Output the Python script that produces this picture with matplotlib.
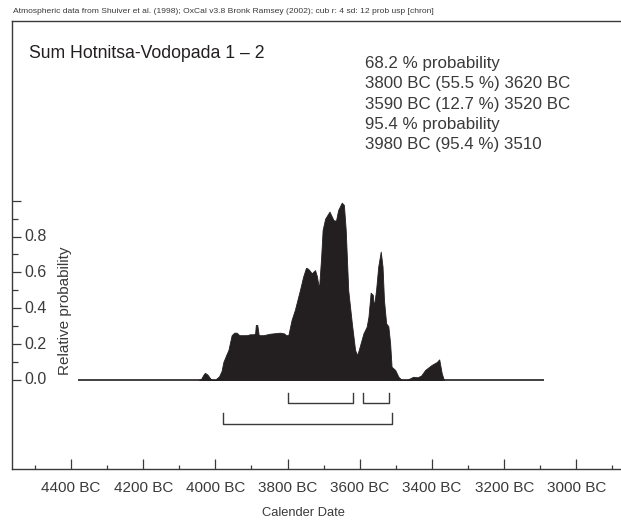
import matplotlib
matplotlib.use("Agg")
import matplotlib.pyplot as plt
from matplotlib.ticker import FixedLocator
import matplotlib.transforms as mtransforms

plt.rcParams['font.family'] = ['Liberation Sans', 'DejaVu Sans']

# Summed probability distribution (calendar years BC, relative probability)
years_bc = [4045, 4040, 4033, 4029, 4022, 4014, 4008, 4000, 3996, 3990, 3983,
            3978, 3970, 3964, 3955, 3948, 3941, 3934, 3913, 3904, 3893, 3890,
            3888, 3884, 3880, 3867, 3849, 3821, 3810, 3804, 3798, 3789, 3780,
            3766, 3757, 3749, 3743, 3733, 3724, 3719, 3713, 3707, 3703, 3696,
            3684, 3673, 3666, 3660, 3650, 3644, 3639, 3632, 3622, 3613, 3607,
            3599, 3590, 3581, 3576, 3570, 3564, 3561, 3555, 3549, 3542, 3537,
            3533, 3527, 3521, 3516, 3512, 3502, 3493, 3484, 3470, 3452, 3440,
            3430, 3419, 3401, 3387, 3380, 3373, 3367]
prob = [0.0, 0.005, 0.03, 0.04, 0.03, 0.008, 0.0, 0.0, 0.01, 0.02, 0.05,
        0.10, 0.14, 0.167, 0.25, 0.264, 0.264, 0.25, 0.25, 0.255, 0.255, 0.26,
        0.307, 0.307, 0.25, 0.25, 0.258, 0.264, 0.26, 0.25, 0.25, 0.335, 0.39,
        0.50, 0.576, 0.626, 0.62, 0.595, 0.613, 0.58, 0.51, 0.688, 0.837, 0.90,
        0.939, 0.892, 0.888, 0.948, 0.989, 0.976, 0.837, 0.50, 0.316, 0.167, 0.139,
        0.195, 0.26, 0.297, 0.353, 0.487, 0.475, 0.409, 0.50, 0.632, 0.716, 0.632,
        0.446, 0.316, 0.30, 0.205, 0.074, 0.056, 0.018, 0.0, 0.0, 0.018, 0.015,
        0.025, 0.056, 0.084, 0.10, 0.115, 0.037, 0.0]

# Extent of the plotted calendar range
range_start_bc = 4380
range_end_bc = 3090

# Highest probability density ranges
ranges_68 = [(3800, 3620), (3590, 3520)]
ranges_95 = [(3980, 3510)]

header = ("Atmospheric data from Shuiver et al. (1998); OxCal v3.8 Bronk Ramsey (2002); "
          "cub r: 4 sd: 12 prob usp [chron]")
title = "Sum Hotnitsa-Vodopada 1 \u2013 2"
summary_lines = ["68.2 % probability",
                 "3800 BC (55.5 %) 3620 BC",
                 "3590 BC (12.7 %) 3520 BC",
                 "95.4 % probability",
                 "3980 BC (95.4 %) 3510"]

x_major = [4400, 4200, 4000, 3800, 3600, 3400, 3200, 3000]
x_minor = [4500, 4300, 4100, 3900, 3700, 3500, 3300, 3100, 2900]
y_major = [0.0, 0.2, 0.4, 0.6, 0.8, 1.0]
y_labelled = [0.0, 0.2, 0.4, 0.6, 0.8]
y_minor = [0.1, 0.3, 0.5, 0.7, 0.9]

ink = "#231f20"
text_col = "#3a3a3a"

W, H = 621, 521
fig = plt.figure(figsize=(W / 100, H / 100), dpi=100)
ax_left, ax_right, ax_top, ax_bot = 12.3, 640, 21, 469
ax = fig.add_axes([ax_left / W, 1 - ax_bot / H, (ax_right - ax_left) / W, (ax_bot - ax_top) / H])

x = [-v for v in years_bc]
ax.fill_between(x, 0, prob, color=ink, linewidth=0.6, edgecolor=ink)
ax.plot([-range_start_bc, -range_end_bc], [0, 0], color=ink, linewidth=1.2, solid_capstyle='butt')

# range brackets below the distribution
def bracket(a, b, top, bottom):
    ax.plot([-a, -a, -b, -b], [top, bottom, bottom, top], color=text_col, linewidth=1.0)

for a, b in ranges_68:
    bracket(a, b, -0.07, -0.13)
for a, b in ranges_95:
    bracket(a, b, -0.186, -0.247)

ax.set_xlim(-4562.6, -(4400 - (ax_right - 71) / 0.361))
ax.set_ylim(-(ax_bot - 380) / 179.3, (380 - ax_top) / 179.3)

ax.xaxis.set_major_locator(FixedLocator([-v for v in x_major]))
ax.xaxis.set_minor_locator(FixedLocator([-v for v in x_minor]))
ax.set_xticklabels([f"{v} BC" for v in x_major])
ax.yaxis.set_major_locator(FixedLocator(y_major))
ax.yaxis.set_minor_locator(FixedLocator(y_minor))
ax.set_yticklabels([])

ax.tick_params(axis='x', which='major', direction='in', length=7.2, width=0.9,
               color=text_col, labelsize=11, labelcolor=text_col, pad=9)
ax.tick_params(axis='x', which='minor', direction='in', length=3.2, width=0.9, color=text_col)
ax.tick_params(axis='y', which='major', direction='in', length=6.7, width=0.9, color=text_col)
ax.tick_params(axis='y', which='minor', direction='in', length=4.3, width=0.9, color=text_col)

ytrans = mtransforms.blended_transform_factory(ax.transAxes, ax.transData)
for v in y_labelled:
    ax.text((24 - ax_left) / (ax_right - ax_left), v, f"{v:.1f}", transform=ytrans,
            ha='left', va='center', fontsize=11.5, color=text_col)

ax.text((65 - ax_left) / (ax_right - ax_left), 0.385, "Relative probability", transform=ytrans,
        rotation=90, ha='center', va='center', fontsize=11, color=text_col)

for side in ['left', 'bottom', 'top']:
    ax.spines[side].set_color(text_col)
    ax.spines[side].set_linewidth(1.0)
ax.spines['right'].set_visible(False)

fig.text(13.3 / W, 1 - 11.5 / H, header, ha='left', va='center', fontsize=6.1, color=text_col)
fig.text(29 / W, 1 - 53 / H, title, ha='left', va='center', fontsize=12.7, color=ink)
for i, line in enumerate(summary_lines):
    fig.text(365 / W, 1 - (63.3 + i * 20.4) / H, line, ha='left', va='center',
             fontsize=12.2, color=text_col)
fig.text(303 / W, 1 - 513 / H, "Calender Date", ha='center', va='center',
         fontsize=9.3, color=text_col)

fig.savefig("out.png", dpi=100)
